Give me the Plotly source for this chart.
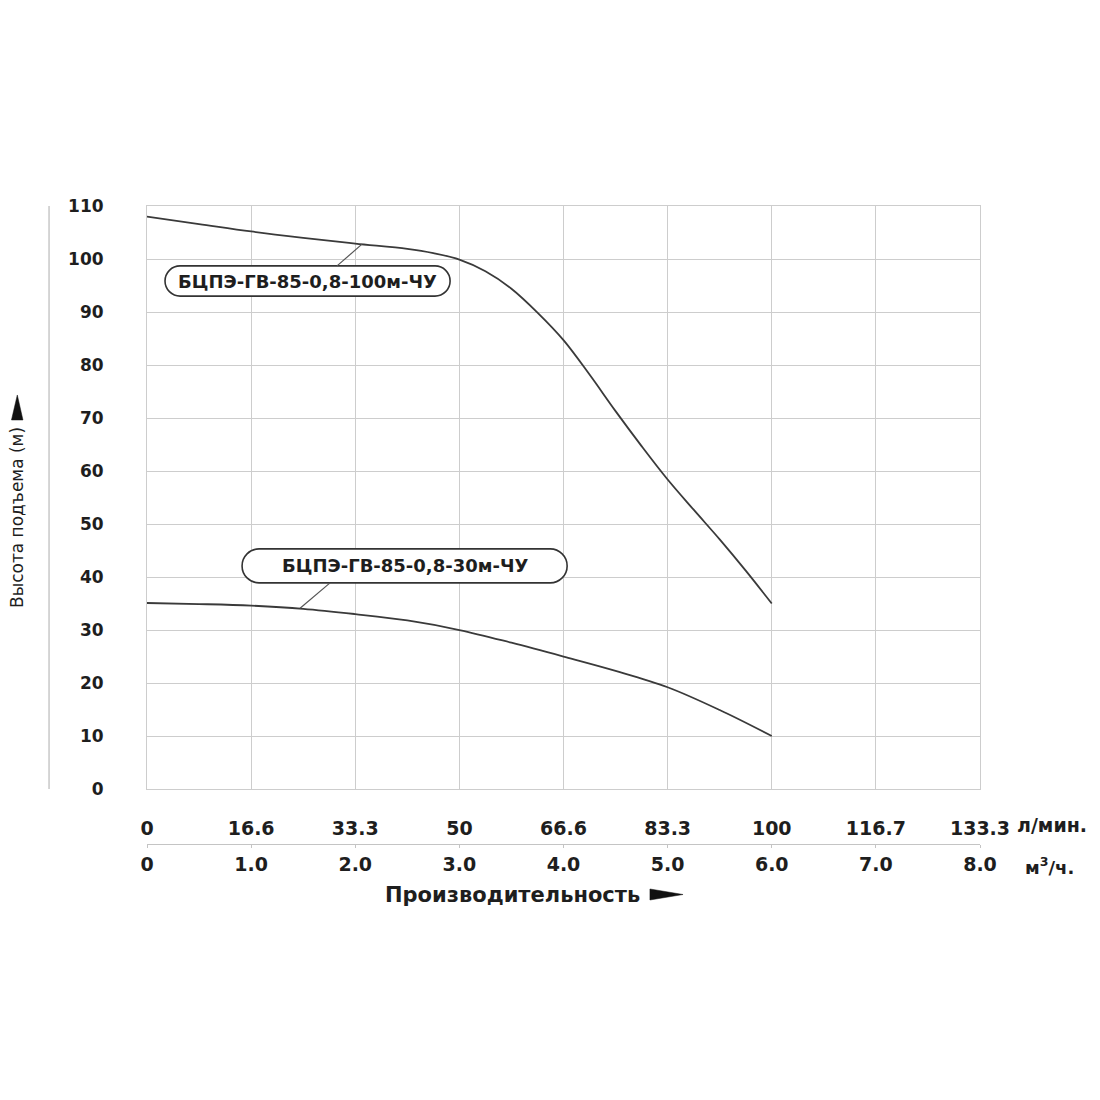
import plotly.graph_objects as go

# ---- data ----
flow_100m = [0, 0.5, 1, 1.5, 2, 2.5, 2.75, 3, 3.25, 3.5, 3.75, 4, 4.25, 4.5, 4.75, 5, 5.25, 5.5, 5.75, 6]
head_100m = [108, 106.6, 105.2, 104.0, 102.9, 101.9, 101.1, 99.9, 97.7, 94.4, 89.9, 84.7, 78.2, 71.3, 64.7, 58.4, 52.7, 47.1, 41.2, 35.0]
flow_30m = [0, 0.5, 1, 1.5, 2, 2.5, 3, 3.5, 4, 4.5, 5, 5.5, 6]
head_30m = [35.1, 34.9, 34.6, 34.0, 33.0, 31.8, 30.0, 27.6, 25.0, 22.3, 19.2, 14.9, 10.0]

name_100m = "БЦПЭ-ГВ-85-0,8-100м-ЧУ"
name_30m = "БЦПЭ-ГВ-85-0,8-30м-ЧУ"

tick_pos = [0, 1, 2, 3, 4, 5, 6, 7, 8]
lpm_labels = ["0", "16.6", "33.3", "50", "66.6", "83.3", "100", "116.7", "133.3"]
m3h_labels = ["0", "1.0", "2.0", "3.0", "4.0", "5.0", "6.0", "7.0", "8.0"]
y_ticks = list(range(0, 111, 10))

GRID = "#cdcdcd"
CURVE = "#3a3a3a"
TXT = "#1e1e1e"
FONT_B = dict(family="DejaVu Sans", size=18, color=TXT, weight=700)

fig = go.Figure()
fig.add_trace(go.Scatter(x=flow_100m, y=head_100m, mode="lines", line=dict(color=CURVE, width=1.8, shape="spline", smoothing=1.0),
                         name=name_100m, xaxis="x", yaxis="y", hoverinfo="skip"))
fig.add_trace(go.Scatter(x=flow_30m, y=head_30m, mode="lines", line=dict(color=CURVE, width=1.8, shape="spline", smoothing=1.0),
                         name=name_30m, xaxis="x2", yaxis="y", hoverinfo="skip"))


def pill(x0, x1, y0, y1):
    # x units per pixel ~ 1/104.1, y units per pixel ~ 1/5.3
    ry = (y1 - y0) / 2.0
    rx = ry * 5.3 / 104.1
    yc = (y0 + y1) / 2.0
    k = 0.5523
    return (f"M {x0+rx},{y1} L {x1-rx},{y1} "
            f"C {x1-rx+k*rx},{y1} {x1},{yc+k*ry} {x1},{yc} "
            f"C {x1},{yc-k*ry} {x1-rx+k*rx},{y0} {x1-rx},{y0} "
            f"L {x0+rx},{y0} "
            f"C {x0+rx-k*rx},{y0} {x0},{yc-k*ry} {x0},{yc} "
            f"C {x0},{yc+k*ry} {x0+rx-k*rx},{y1} {x0+rx},{y1} Z")


shapes = [
    dict(type="path", xref="x", yref="y", path=pill(0.173, 2.911, 93.0, 98.7), line=dict(color="#333", width=1.6), fillcolor="white"),
    dict(type="path", xref="x", yref="y", path=pill(0.913, 4.035, 38.9, 45.3), line=dict(color="#333", width=1.6), fillcolor="white"),
    dict(type="line", xref="x", yref="y", x0=2.065, y0=102.8, x1=1.825, y1=98.7, line=dict(color="#555", width=1.2)),
    dict(type="line", xref="x", yref="y", x0=1.758, y0=38.9, x1=1.47, y1=34.1, line=dict(color="#555", width=1.2)),
    dict(type="line", xref="paper", yref="y domain", x0=-0.1176, x1=-0.1176, y0=0, y1=1, line=dict(color="#c8c8c8", width=1.5)),
    # arrow after x title
    dict(type="path", xref="paper", yref="paper", path="M 0.6038,0.02707 L 0.6038,0.0114 L 0.6435,0.01923 Z",
         fillcolor="#111", line=dict(color="#111", width=0.5)),
    # arrow above y title
    dict(type="path", xref="paper", yref="paper", path="M -0.1627,0.6952 L -0.1489,0.6952 L -0.1557,0.7308 Z",
         fillcolor="#111", line=dict(color="#111", width=0.5)),
]

annotations = [
    dict(x=1.542, y=95.85, xref="x", yref="y", text=name_100m, showarrow=False, font=FONT_B),
    dict(x=2.474, y=42.1, xref="x", yref="y", text=name_30m, showarrow=False, font=FONT_B),
    dict(x=1.042, y=0.1182, xref="paper", yref="paper", xanchor="left", yanchor="middle", text="л/мин.", showarrow=False,
         font=dict(family="DejaVu Sans", size=19, color=TXT, weight=700)),
    dict(x=1.0516, y=0.060, xref="paper", yref="paper", xanchor="left", yanchor="middle", text="м<sup>3</sup>/ч.", showarrow=False,
         font=dict(family="DejaVu Sans", size=18, color=TXT, weight=700)),
    dict(x=0.4388, y=0.0185, xref="paper", yref="paper", xanchor="center", yanchor="middle", text="Производительность", showarrow=False,
         font=dict(family="DejaVu Sans", size=21, color=TXT, weight=700)),
    dict(x=-0.1561, y=0.557, xref="paper", yref="paper", xanchor="center", yanchor="middle", text="Высота подъема (м)", textangle=-90,
         showarrow=False, font=dict(family="DejaVu Sans", size=17, color=TXT)),
]

fig.update_layout(
    width=1100, height=1100,
    margin=dict(l=139, r=128, t=198, b=200),
    paper_bgcolor="white", plot_bgcolor="white",
    showlegend=False,
    shapes=shapes, annotations=annotations,
    xaxis=dict(range=[0, 8], tickvals=tick_pos, ticktext=lpm_labels, showgrid=True, gridcolor=GRID, gridwidth=1,
               showline=True, linecolor=GRID, mirror=True, zeroline=False, ticks="", ticklabelstandoff=22,
               tickfont=dict(family="DejaVu Sans", size=19, color=TXT, weight=700), anchor="y", fixedrange=True),
    xaxis2=dict(range=[0, 8], tickvals=tick_pos, ticktext=m3h_labels, overlaying="x", anchor="free", position=0.0912, side="bottom",
                showgrid=False, showline=True, linecolor="#c4c4c4", ticks="outside", ticklen=3, tickcolor="#c4c4c4",
                zeroline=False, ticklabelstandoff=0,
                tickfont=dict(family="DejaVu Sans", size=19, color=TXT, weight=700), fixedrange=True),
    yaxis=dict(range=[0, 110], domain=[0.1695, 1], tickvals=y_ticks, showgrid=True, gridcolor=GRID, gridwidth=1,
               showline=True, linecolor=GRID, mirror=True, zeroline=False, ticks="", ticklabelstandoff=39,
               tickfont=dict(family="DejaVu Sans", size=17, color=TXT, weight=700), fixedrange=True),
)

fig.write_html("out.html")
